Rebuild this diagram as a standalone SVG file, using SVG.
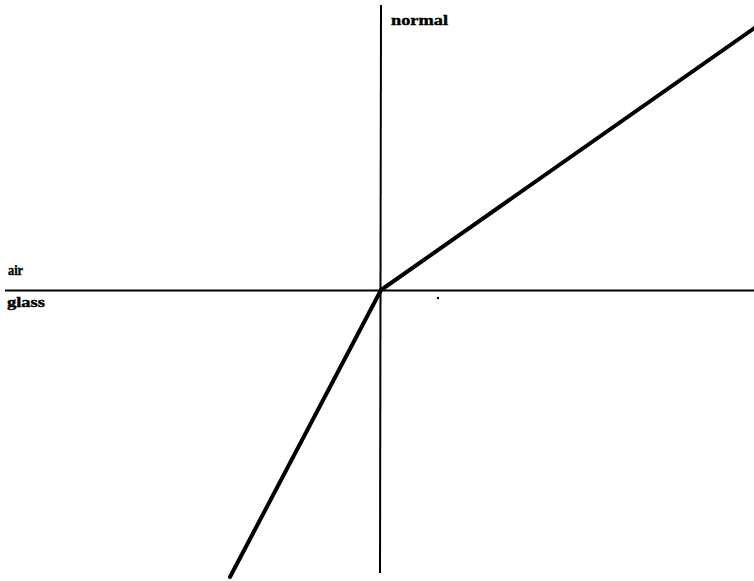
<svg xmlns="http://www.w3.org/2000/svg" width="754" height="581" viewBox="0 0 754 581">
<style>
.thin{stroke:#000;stroke-width:2;fill:none}
.ray{stroke:#000;stroke-width:4;fill:none;stroke-linecap:round}
.lbl{font-family:"Liberation Serif","Times New Roman",serif;font-weight:bold;font-size:15px;fill:#000;stroke:#000;stroke-width:0.4}
</style>
<rect width="754" height="581" fill="#fff"/>
<g id="connectors">
<line class="thin" x1="381" y1="5" x2="380" y2="573"/>
<line class="thin" x1="5" y1="290.5" x2="754" y2="290.5"/>
<line class="ray" x1="381" y1="290" x2="756" y2="27"/>
<line class="ray" x1="381" y1="290" x2="230" y2="577"/>
<circle cx="438" cy="298" r="1.2" fill="#000"/>
</g>
<g id="label-normal"><text class="lbl" x="391" y="25" textLength="57" lengthAdjust="spacingAndGlyphs">normal</text></g>
<g id="label-air"><text class="lbl" x="8" y="275" textLength="15" lengthAdjust="spacingAndGlyphs">air</text></g>
<g id="label-glass"><text class="lbl" x="7" y="307" textLength="38" lengthAdjust="spacingAndGlyphs">glass</text></g>
</svg>
